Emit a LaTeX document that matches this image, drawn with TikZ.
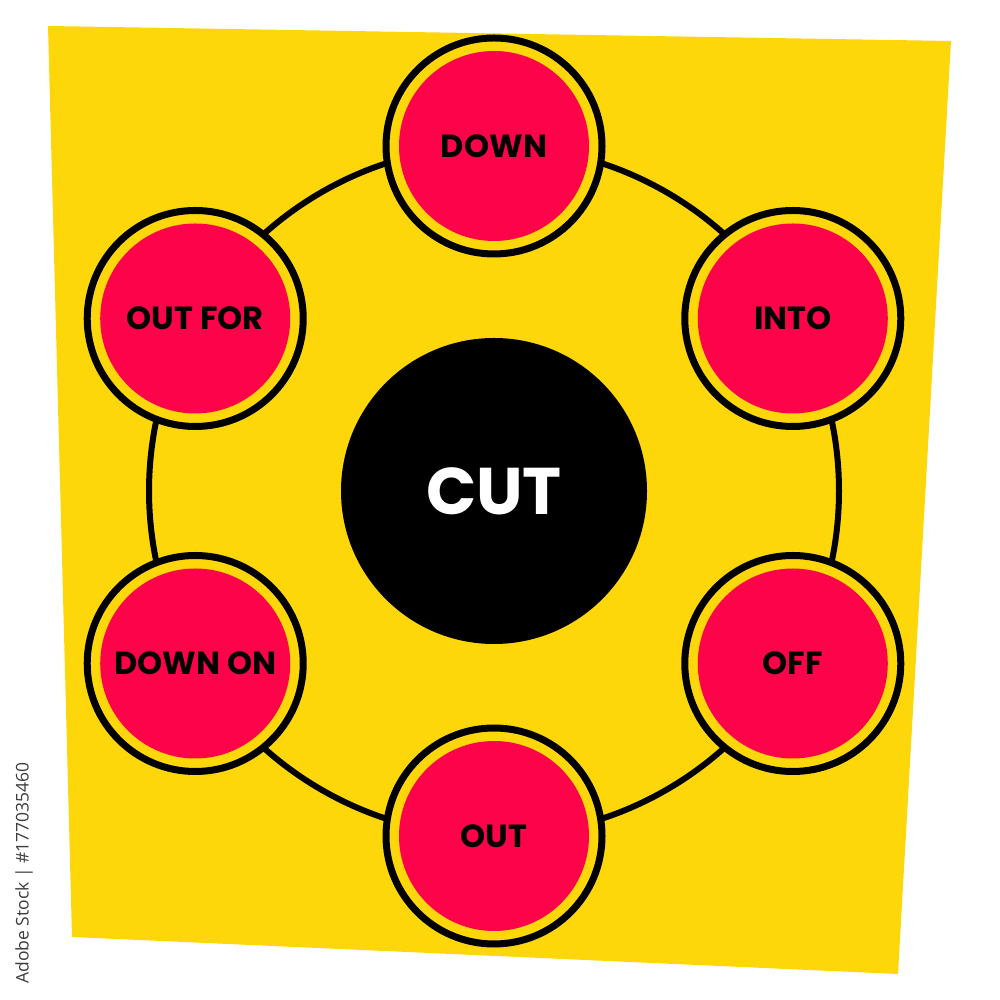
\documentclass[tikz,border=0pt]{standalone}
\usepackage{fontspec}
\setmainfont{Poppins}
\newfontfamily\wmfont{Open Sans}
\usetikzlibrary{backgrounds}
\definecolor{bgyellow}{HTML}{FED70A}
\definecolor{nodered}{HTML}{FD0349}
\definecolor{wmgray}{HTML}{3C3C3C}
\tikzset{
  word/.style={circle, fill=bgyellow, draw=black, line width=7pt,
    minimum size=216pt, inner sep=0pt,
    path picture={\fill[nodered] (path picture bounding box.center) circle (95pt);},
    font=\fontsize{32}{36}\selectfont\bfseries, text=black},
  hub/.style={circle, fill=black, minimum size=306pt, inner sep=0pt,
    font=\fontsize{66}{70}\selectfont\bfseries, text=white},
  ring/.style={draw=black, line width=6pt}
}
\begin{document}
\begin{tikzpicture}[x=1pt,y=1pt]
\useasboundingbox (0,0) rectangle (1000,1000);
\coordinate (C) at (494,509);
\node[hub] (cut) at (C) {CUT};
\path (C) ++(90:345) node[word] (down) {DOWN};
\path (C) ++(30:345) node[word] (into) {INTO};
\path (C) ++(-30:345) node[word] (off) {OFF};
\path (C) ++(-90:345) node[word] (out) {OUT};
\path (C) ++(210:345) node[word] (downon) {DOWN ON};
\path (C) ++(150:345) node[word] (outfor) {OUT FOR};
\begin{scope}[on background layer]
  \fill[bgyellow] (48,974) -- (951,959) -- (898,26) -- (72,63) -- cycle;
  \draw[ring] (down.center) arc[start angle=90, end angle=30, radius=345pt];
  \draw[ring] (into.center) arc[start angle=30, end angle=-30, radius=345pt];
  \draw[ring] (off.center) arc[start angle=-30, end angle=-90, radius=345pt];
  \draw[ring] (out.center) arc[start angle=-90, end angle=-150, radius=345pt];
  \draw[ring] (downon.center) arc[start angle=210, end angle=150, radius=345pt];
  \draw[ring] (outfor.center) arc[start angle=150, end angle=90, radius=345pt];
\end{scope}
\node[rotate=90, text=wmgray, font=\wmfont\fontsize{17.5}{20}\selectfont, inner sep=0pt] (wm) at (24,127) {Adobe Stock | \#177035460};
\end{tikzpicture}
\end{document}
